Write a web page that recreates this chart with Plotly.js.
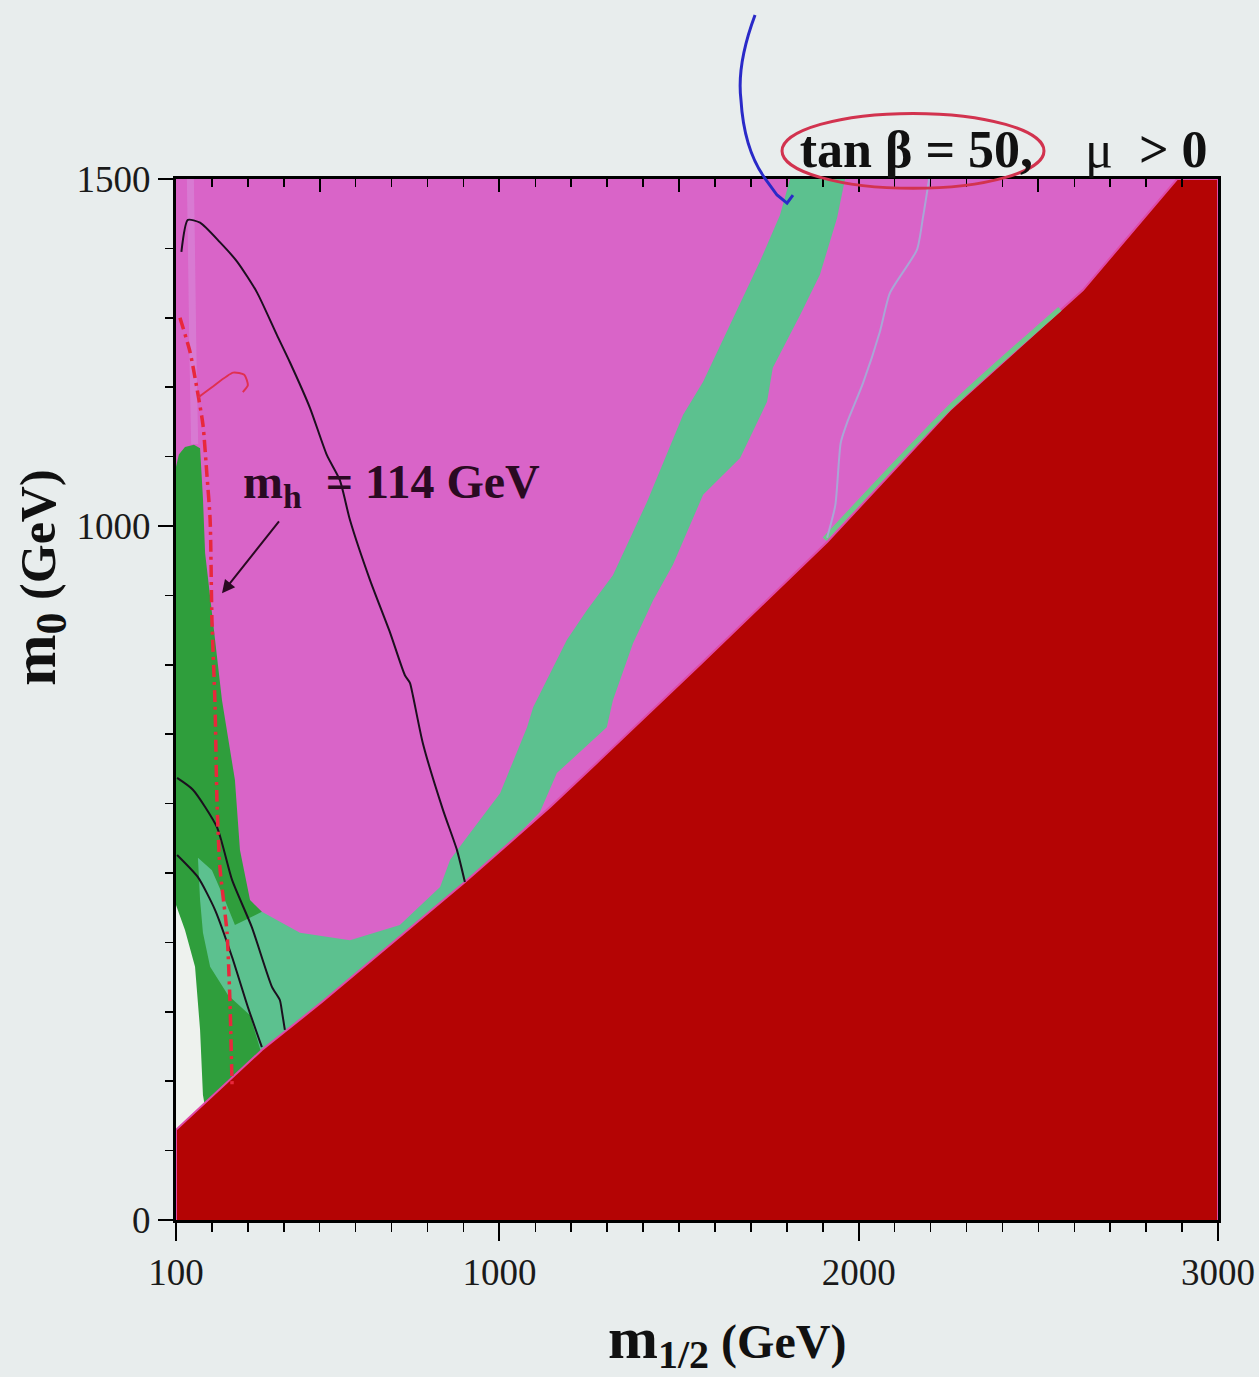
<!DOCTYPE html>
<html>
<head>
<meta charset="utf-8">
<script src="https://cdn.plot.ly/plotly-3.0.1.min.js"></script>
<style>
  html, body { margin: 0; padding: 0; background: #e8eded; }
  #chart { width: 1259px; height: 1377px; }
</style>
</head>
<body>
<div id="chart"></div>
<script>
// ---- data (m_1/2 in GeV, m_0 in GeV) ----
// excluded stau-LSP region (red)
const redX = [100, 100, 339, 506, 904, 1141, 1280, 1558, 1912, 2254, 2624, 2866, 2886, 3000, 3000];
const redY = [0, 130, 245, 314, 487, 595, 663, 800, 977, 1167, 1340, 1489, 1500, 1500, 0];

// b -> s gamma excluded region (dark green)
const greenX = [100, 108, 125, 150, 167, 175, 181, 203, 228, 264, 278, 306, 339, 417, 200, 100];
const greenY = [1085, 1103, 1114, 1117, 1112, 1040, 961, 865, 749, 634, 533, 461, 444, 231, 100, 100];

// WMAP-preferred relic density band (light green)
const tealX = [1809, 1781, 1725, 1650, 1567, 1511, 1411, 1316, 1244, 1188, 1094, 1077, 1002, 910, 863, 835, 723, 584, 445, 339,
               264, 236, 200, 161, 167, 175, 195, 245, 306, 339, 506, 904, 1113,
               1160, 1299, 1316, 1372, 1428, 1483, 1567, 1670, 1745, 1761, 1837, 1892, 1940, 1962];
const tealY = [1500, 1448, 1381, 1300, 1208, 1160, 1035, 929, 879, 836, 739, 710, 615, 552, 519, 480, 425, 403, 414, 444,
               425, 461, 504, 522, 461, 414, 365, 324, 295, 238, 302, 477, 588,
               644, 710, 749, 831, 893, 944, 1045, 1098, 1179, 1228, 1304, 1362, 1444, 1500];

// unshaded corner (white)
const whiteX = [100, 125, 153, 167, 175, 185, 100];
const whiteY = [454, 418, 365, 274, 180, 150, 120];

// pale strip next to the left axis
const paleX = [140, 143, 147, 152];
const paleY = [1500, 1400, 1250, 1118];

// thin relic strip along the stau boundary and the funnel's far edge
const stripX = [1905, 2254, 2560];
const stripY = [981, 1171, 1313];
const edgeX = [1912, 1935, 1950, 1967, 2012, 2059, 2087, 2162, 2179, 2196];
const edgeY = [983, 1030, 1120, 1148, 1206, 1280, 1336, 1398, 1445, 1500];

// Higgs mass contours (black)
const mh114X = [115, 133, 167, 222, 270, 325, 381, 417, 473, 520, 556, 584, 640, 696, 737, 751, 760, 787, 843, 882, 904];
const mh114Y = [1395, 1441, 1437, 1409, 1381, 1337, 1275, 1236, 1170, 1102, 1066, 1009, 922, 846, 785, 774, 754, 687, 591, 533, 487];
const mhBX = [103, 147, 214, 256, 311, 367, 389, 395, 403];
const mhBY = [637, 620, 566, 490, 422, 336, 317, 300, 274];
const mhCX = [103, 161, 208.5, 256, 300, 339];
const mhCY = [526, 494, 447, 379, 307, 249];

// chargino limit (red dash-dot) and handwritten hook
const charX = [111, 139, 158, 175, 186, 195, 200, 208.5, 214, 222, 242, 250, 256];
const charY = [1300, 1251, 1199, 1146, 1074, 1009, 865, 745, 605, 509, 414, 317, 195];
const hookX = [161, 200, 259, 290, 300, 286];
const hookY = [1185, 1200, 1221, 1218, 1203, 1193];

// axis ticks
const xTickVals = [100, 1000, 2000, 3000];
const xTickText = ['100', '1000', '2000', '3000'];
const yTickVals = [0, 1000, 1500];
const yTickText = ['0', '1000', '1500'];

// ---- colours ----
const PINK = '#d964c8', RED = '#b40404', TEAL = '#5cc18f', DKGREEN = '#2f9e3c', PALE = '#eef2ee';

function fillTrace(x, y, color, line) {
  return { x: x, y: y, type: 'scatter', mode: 'lines', fill: 'toself', fillcolor: color,
           line: line || { width: 0, color: color }, hoverinfo: 'skip', showlegend: false };
}
function lineTrace(x, y, color, width, dash) {
  return { x: x, y: y, type: 'scatter', mode: 'lines',
           line: { color: color, width: width, dash: dash || 'solid', shape: 'spline', smoothing: 0.6 },
           hoverinfo: 'skip', showlegend: false };
}

const traces = [
  lineTrace(paleX, paleY, 'rgba(215,175,235,0.3)', 7),
  fillTrace(greenX, greenY, DKGREEN),
  fillTrace(tealX, tealY, TEAL),
  fillTrace(whiteX, whiteY, PALE),
  fillTrace(redX, redY, RED, { width: 2, color: '#e04aa8' }),
  lineTrace(stripX, stripY, '#6cc98a', 5),
  lineTrace(edgeX, edgeY, '#a9a6d6', 2),
  lineTrace(mh114X, mh114Y, '#1b0f1e', 2),
  lineTrace(mhBX, mhBY, '#1b0f1e', 2),
  lineTrace(mhCX, mhCY, '#1b0f1e', 2),
  lineTrace(charX, charY, '#e8283c', 3.5, '12px,5px,3px,5px'),
  lineTrace(hookX, hookY, '#e03050', 2),
  { x: [100], y: [0], xaxis: 'x2', type: 'scatter', mode: 'markers', marker: { opacity: 0 }, hoverinfo: 'skip', showlegend: false }
];

const fontSerif = 'Liberation Serif, Times New Roman, serif';

const layout = {
  width: 1259, height: 1377,
  margin: { l: 176, r: 41, t: 179, b: 157 },
  paper_bgcolor: '#e8eded',
  plot_bgcolor: PINK,
  showlegend: false,
  title: {
    text: '<b>tan β = 50,</b>&nbsp;&nbsp;&nbsp; μ&nbsp; <b>&gt; 0</b>',
    font: { family: fontSerif, size: 52, color: '#111' },
    xref: 'paper', x: 0.99, xanchor: 'right',
    yref: 'container', y: 0.892, yanchor: 'middle'
  },
  xaxis: {
    range: [100, 3000], showgrid: false, zeroline: false,
    showline: true, linewidth: 3, linecolor: '#000', mirror: true,
    tickmode: 'array', tickvals: xTickVals, ticktext: xTickText,
    ticks: 'outside', ticklen: 18, tickwidth: 2, tickcolor: '#000',
    tickfont: { family: fontSerif, size: 37, color: '#1a1a1a' },
    minor: { tickmode: 'linear', tick0: 100, dtick: 100, ticks: 'outside', ticklen: 9, tickwidth: 1.5, tickcolor: '#000', showgrid: false }
  },
  xaxis2: {
    overlaying: 'x', side: 'top', anchor: 'y', range: [100, 3000],
    showgrid: false, zeroline: false, showticklabels: false,
    tickmode: 'array', tickvals: [500, 1000, 1500, 2000, 2500],
    ticks: 'inside', ticklen: 13, tickwidth: 2, tickcolor: '#000',
    minor: { tickmode: 'linear', tick0: 100, dtick: 100, ticks: 'inside', ticklen: 8, tickwidth: 1.5, tickcolor: '#000', showgrid: false }
  },
  yaxis: {
    range: [0, 1500], showgrid: false, zeroline: false,
    showline: true, linewidth: 3, linecolor: '#000', mirror: true,
    tickmode: 'array', tickvals: yTickVals, ticktext: yTickText,
    ticks: 'outside', ticklen: 15, tickwidth: 2, tickcolor: '#000',
    tickfont: { family: fontSerif, size: 37, color: '#1a1a1a' },
    minor: { tickmode: 'linear', tick0: 0, dtick: 100, ticks: 'outside', ticklen: 8, tickwidth: 1.5, tickcolor: '#000', showgrid: false }
  },
  annotations: [
    { x: 0.5288, y: -0.1165, xref: 'paper', yref: 'paper', xanchor: 'center', yanchor: 'middle', showarrow: false,
      text: '<b><span style="font-size:60px">m</span><sub><span style="font-size:40px">1/2</span></sub> (GeV)</b>',
      font: { family: fontSerif, size: 48, color: '#111' } },
    { x: -0.1324, y: 0.6167, xref: 'paper', yref: 'paper', xanchor: 'center', yanchor: 'middle', showarrow: false,
      textangle: -90, text: '<b><span style="font-size:62px">m</span><sub><span style="font-size:44px">0</span></sub> (GeV)</b>',
      font: { family: fontSerif, size: 50, color: '#111' } },
    { x: 282, y: 1059, xref: 'x', yref: 'y', xanchor: 'left', yanchor: 'middle', showarrow: false,
      text: '<b>m<sub>h</sub>&nbsp; = 114 GeV</b>', font: { family: fontSerif, size: 48, color: '#2a0a22' } },
    { x: 228, y: 903, xref: 'x', yref: 'y', ax: 395, ay: 1012, axref: 'x', ayref: 'y', text: ' ',
      showarrow: true, arrowhead: 2, arrowsize: 1.3, arrowwidth: 2, arrowcolor: '#2a0a22' }
  ],
  shapes: [
    { type: 'circle', xref: 'paper', yref: 'paper', x0: 0.5816, x1: 0.833, y0: 0.991, y1: 1.063,
      line: { color: '#d2334f', width: 3 } },
    { type: 'path', xref: 'paper', yref: 'paper',
      path: 'M 0.5557 1.1575 Q 0.538 1.11 0.5422 1.0759 Q 0.545 1.03 0.5643 1.0019 L 0.5768 0.9846 L 0.5864 0.9769 L 0.5921 0.9846',
      line: { color: '#2a2ac8', width: 3 } }
  ]
};

Plotly.newPlot('chart', traces, layout, { staticPlot: true, displayModeBar: false });
</script>
</body>
</html>
